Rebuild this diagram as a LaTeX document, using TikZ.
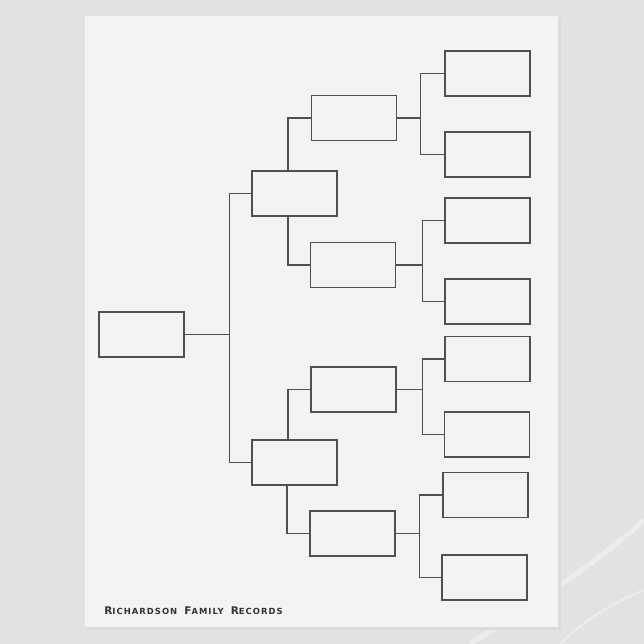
\documentclass[tikz,border=0pt]{standalone}
\usepackage{fontspec}
\newfontfamily\recfont[LetterSpace=12]{DejaVu Sans}
\definecolor{marble}{RGB}{226,226,225}
\definecolor{sheet}{RGB}{243,243,242}
\definecolor{ink}{RGB}{80,80,80}
\tikzset{
  slot/.style={draw=ink, line width=0.8pt, minimum width=1.7cm, minimum height=0.9cm, inner sep=0pt},
  link/.style={draw=ink, line width=0.8pt}
}
\begin{document}
\begin{tikzpicture}[x=0.02cm,y=-0.02cm]
        \useasboundingbox (0,0) rectangle (644,644);
        \fill[marble] (0,0) rectangle (644,644);
        \draw[white!35!marble, line width=3pt] (470,644) .. controls (540,600) and (600,560) .. (644,520);
        \draw[white!30!marble, line width=1.5pt] (560,644) .. controls (590,615) and (620,600) .. (644,590);

        % the sheet
        \fill[black!14] (87,19) rectangle (561,630);
        \fill[sheet] (85,16) rectangle (558,627);

        % person
        \node[slot] (root) at (141.5,334.5) {};

        % parents
        \node[slot] (p1) at (294.5,193.5) {};
        \node[slot] (p2) at (294.5,462.5) {};

        % grandparents
        \node[slot] (gp1) at (354,118) {};
        \node[slot] (gp2) at (353,265) {};
        \node[slot] (gp3) at (353.5,389.5) {};
        \node[slot] (gp4) at (352.5,533.5) {};

        % great-grandparents
        \node[slot] (ggp1) at (487.5,73.5) {};
        \node[slot] (ggp2) at (487.5,154.5) {};
        \node[slot] (ggp3) at (487.5,220.5) {};
        \node[slot] (ggp4) at (487.5,301.5) {};
        \node[slot] (ggp5) at (487.5,359) {};
        \node[slot] (ggp6) at (487,434.5) {};
        \node[slot] (ggp7) at (485.5,495) {};
        \node[slot] (ggp8) at (484.5,577.5) {};

        \draw[link] (root.east) -- ++(45,0) coordinate (j0);
        \draw[link] (p1.west) -| (j0) |- (p2.west);

        \draw[link] ([xshift=-0.13cm]p1.north) |- (gp1.west);
        \draw[link] ([xshift=-0.13cm]p1.south) |- (gp2.west);
        \draw[link] ([xshift=-0.13cm]p2.north) |- (gp3.west);
        \draw[link] ([xshift=-0.15cm]p2.south) |- (gp4.west);

        \draw[link] (gp1.east) -- ++(23,0) coordinate (j1);
        \draw[link] (ggp1.west) -| (j1) |- (ggp2.west);
        \draw[link] (gp2.east) -- ++(26,0) coordinate (j2);
        \draw[link] (ggp3.west) -| (j2) |- (ggp4.west);
        \draw[link] (gp3.east) -- ++(26,0) coordinate (j3);
        \draw[link] (ggp5.west) -| (j3) |- (ggp6.west);
        \draw[link] (gp4.east) -- ++(24,0) coordinate (j4);
        \draw[link] (ggp7.west) -| (j4) |- (ggp8.west);

        \node[anchor=base west, inner sep=0pt, text=black!80] (title) at (104,614)
          {\recfont\bfseries{\fontsize{6}{6}\selectfont R}{\fontsize{4.8}{6}\selectfont ICHARDSON}\hspace{4pt}{\fontsize{6}{6}\selectfont F}{\fontsize{4.8}{6}\selectfont AMILY}\hspace{4pt}{\fontsize{6}{6}\selectfont R}{\fontsize{4.8}{6}\selectfont ECORDS}};
    \end{tikzpicture}
\end{document}
